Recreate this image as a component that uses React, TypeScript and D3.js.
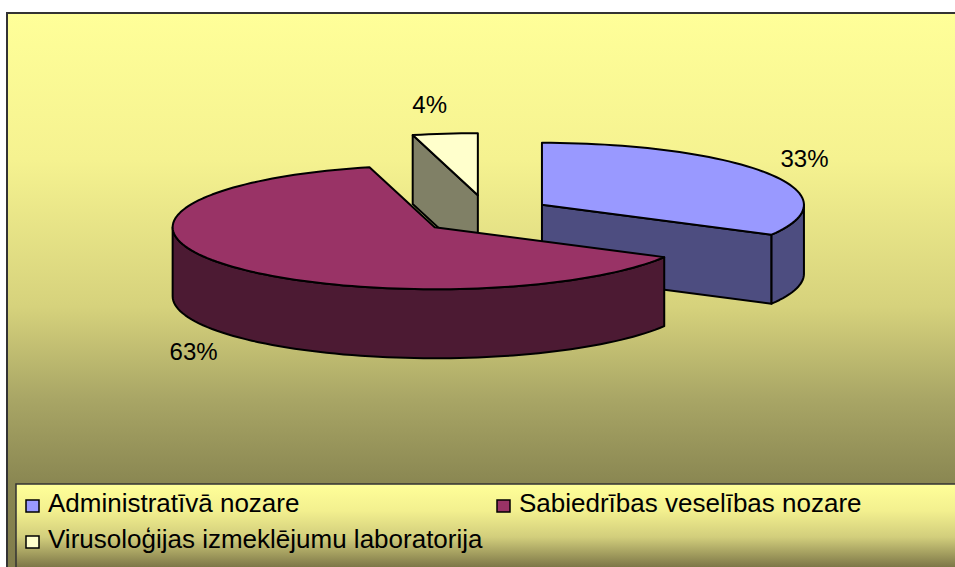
import React from "react";
import * as d3 from "d3";

const values = [33, 63, 4];
const names = [
  "Administratīvā nozare",
  "Sabiedrības veselības nozare",
  "Virusoloģijas izmeklējumu laboratorija",
];
const pctLabels = ["33%", "63%", "4%"];
const topColors = ["#9999FF", "#993366", "#FFFFCC"];
const sideColors = ["#4D4D80", "#4C1A33", "#808066"];

const W = 955;
const H = 567;

// pie geometry
const cx0 = 486;
const cy0 = 215;
const rx = 262;
const ry = 62;
const depth = 69;
const explodeX = 65;
const explodeY = 20;

type Pt = [number, number];

const line = d3.line<Pt>().curve(d3.curveLinear);

function rim(c: Pt, t: number, z: number): Pt {
  return [c[0] + rx * Math.sin(t), c[1] - ry * Math.cos(t) + z];
}

function arcPts(c: Pt, a0: number, a1: number, z: number): Pt[] {
  const n = Math.max(2, Math.ceil(((a1 - a0) / Math.PI) * 90));
  const pts: Pt[] = [];
  for (let i = 0; i <= n; i++) pts.push(rim(c, a0 + ((a1 - a0) * i) / n, z));
  return pts;
}

function closed(pts: Pt[]) {
  return line(pts) + "Z";
}

export default function App() {
  const arcs = d3.pie<number>().sort(null).value((d) => d)(values);

  const slices = arcs.map((a, i) => {
    const mid = (a.startAngle + a.endAngle) / 2;
    const c: Pt = [cx0 + Math.sin(mid) * explodeX, cy0 - Math.cos(mid) * explodeY];
    return { i, s: a.startAngle, e: a.endAngle, mid, c };
  });

  // back slices first
  const order = [...slices].sort((a, b) => a.c[1] - b.c[1]);

  const stroke = { stroke: "#000", strokeWidth: 2, strokeLinejoin: "round" as const };

  return (
    <div style={{ position: "fixed", left: 0, top: 0 }}>
      <svg width={W} height={H} style={{ display: "block", background: "#fff" }}>
        <defs>
          <linearGradient id="bg" gradientUnits="userSpaceOnUse" x1="0" y1="13" x2="0" y2="600">
            <stop offset="0" stopColor="#FFFF99" />
            <stop offset="0.25" stopColor="#F5F290" />
            <stop offset="0.5" stopColor="#D6D27C" />
            <stop offset="0.66" stopColor="#A8A565" />
            <stop offset="0.8" stopColor="#8A8752" />
            <stop offset="1" stopColor="#7C7848" />
          </linearGradient>
          <linearGradient id="lg" gradientUnits="userSpaceOnUse" x1="0" y1="484" x2="0" y2="590">
            <stop offset="0" stopColor="#FFFF99" />
            <stop offset="0.25" stopColor="#F3F08F" />
            <stop offset="0.5" stopColor="#D2CE7C" />
            <stop offset="0.78" stopColor="#7E7848" />
            <stop offset="1" stopColor="#6C663E" />
          </linearGradient>
        </defs>

        <rect x={7} y={13} width={1000} height={700} fill="url(#bg)" stroke="#333" strokeWidth={2} />

        {order.map(({ i, s, e, c }) => {
          const cb: Pt = [c[0], c[1] + depth];
          const parts: JSX.Element[] = [];
          if (Math.sin(s) < -1e-6) {
            parts.push(
              <path key="sf" d={closed([c, rim(c, s, 0), rim(c, s, depth), cb])} fill={sideColors[i]} {...stroke} />
            );
          }
          if (Math.sin(e) > 1e-6) {
            parts.push(
              <path key="ef" d={closed([c, rim(c, e, 0), rim(c, e, depth), cb])} fill={sideColors[i]} {...stroke} />
            );
          }
          const lo = Math.max(s, Math.PI / 2);
          const hi = Math.min(e, (3 * Math.PI) / 2);
          if (hi > lo) {
            const pts = [...arcPts(c, lo, hi, 0), ...arcPts(c, lo, hi, depth).reverse()];
            parts.push(<path key="os" d={closed(pts)} fill={sideColors[i]} {...stroke} />);
          }
          parts.push(
            <path key="top" d={closed([c, ...arcPts(c, s, e, 0)])} fill={topColors[i]} {...stroke} />
          );
          return <g key={i}>{parts}</g>;
        })}

        {slices.map(({ i, mid, c }) => {
          const x = c[0] + Math.sin(mid) * (rx + 43) + (Math.abs(Math.sin(mid)) < 0.3 ? -10 : 0);
          const y = c[1] - Math.cos(mid) * (ry + 29) + (Math.cos(mid) < 0 ? depth : 0);
          return (
            <text
              key={i}
              x={x}
              y={y}
              dy="0.35em"
              textAnchor="middle"
              fontFamily="Liberation Sans, Arial, sans-serif"
              fontSize={24}
              fill="#000"
            >
              {pctLabels[i]}
            </text>
          );
        })}

        <rect x={16} y={484} width={1000} height={120} fill="url(#lg)" stroke="#333" strokeWidth={1.5} />
        {names.map((n, i) => {
          const lx = i === 1 ? 497 : 26;
          const ly = i === 2 ? 536 : 500;
          return (
            <g key={n}>
              <rect x={lx} y={ly} width={13} height={12} fill={topColors[i]} stroke="#000" strokeWidth={1.5} />
              <text
                x={lx + 22}
                y={ly + 12}
                fontFamily="Liberation Sans, Arial, sans-serif"
                fontSize={26}
                fill="#000"
              >
                {n}
              </text>
            </g>
          );
        })}
      </svg>
    </div>
  );
}
